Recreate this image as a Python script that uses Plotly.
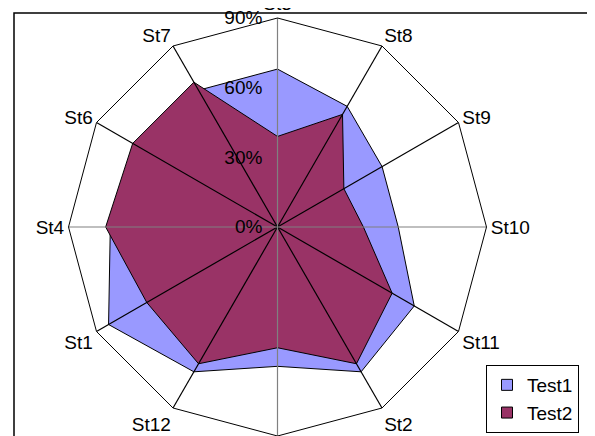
import plotly.graph_objects as go

categories = ["St3", "St8", "St9", "St10", "St11", "St2", "St5", "St12", "St1", "St4", "St6", "St7"]
test1 = [0.68, 0.60, 0.52, 0.52, 0.68, 0.72, 0.60, 0.72, 0.84, 0.72, 0.65, 0.68]
test2 = [0.39, 0.56, 0.33, 0.37, 0.57, 0.68, 0.52, 0.68, 0.65, 0.74, 0.72, 0.72]
series_names = ["Test1", "Test2"]
series_colors = ["#9999FF", "#993366"]
radial_ticks = [0, 0.3, 0.6, 0.9]
radial_labels = ["0%", "30%", "60%", "90%"]

# the page body has an 8px default margin; work in figure coordinates
OFF = 8
W, H = 595 - OFF, 436 - OFF
R = 209
cx = 277.5 - OFF
rmax = radial_ticks[-1]

fig = go.Figure()
for vals, name, col in zip([test1, test2], series_names, series_colors):
    fig.add_trace(go.Scatterpolar(
        r=vals + vals[:1], theta=categories + categories[:1], name=name,
        mode="lines", fill="toself", fillcolor=col, showlegend=False,
        line=dict(color="black", width=1), hoverinfo="skip"))

# spokes drawn over the fills (axis lines in grey, the rest black)
axis_cats = [categories[i] for i in (0, 3, 6, 9)]
for cats, col in [([c for c in categories if c not in axis_cats], "black"), (axis_cats, "#808080")]:
    rr, tt = [], []
    for c in cats:
        rr += [0, rmax, None]
        tt += [c, c, c]
    fig.add_trace(go.Scatterpolar(r=rr, theta=tt, mode="lines", showlegend=False,
                                  line=dict(color=col, width=1.2), hoverinfo="skip"))

for name, col in zip(series_names, series_colors):
    fig.add_trace(go.Scatterpolar(
        r=[None], theta=[categories[0]], name=name, mode="markers",
        marker=dict(symbol="square", size=11, color=col, line=dict(color="black", width=1)),
        showlegend=True))

font = "Liberation Sans, Arial, sans-serif"
fig.update_layout(
    width=W, height=H,
    margin=dict(l=0, r=0, t=0, b=0, autoexpand=False),
    paper_bgcolor="white",
    font=dict(family=font, size=19, color="black"),
    polar=dict(
        domain=dict(x=[(cx - R) / W, (cx + R) / W], y=[0, 2 * R / H]),
        bgcolor="white",
        gridshape="linear",
        angularaxis=dict(
            type="category", categoryarray=categories,
            direction="clockwise", rotation=90,
            showline=True, linecolor="black", linewidth=1,
            showgrid=False,
            ticks="", layer="above traces",
            tickfont=dict(size=19),
        ),
        radialaxis=dict(
            range=[0, rmax], angle=90, tickangle=90,
            tickvals=radial_ticks, ticktext=radial_labels,
            showgrid=False, showline=False,
            ticks="outside", ticklen=8, tickcolor="rgba(0,0,0,0)",
            side="counterclockwise", layer="above traces",
            tickfont=dict(size=19),
        ),
    ),
    showlegend=True,
    legend=dict(
        x=(486 - OFF) / W, y=1 - (433 - OFF) / H, xanchor="left", yanchor="bottom",
        bordercolor="black", borderwidth=1, bgcolor="white",
        font=dict(size=19), tracegroupgap=0, itemwidth=30,
    ),
    shapes=[dict(type="rect", xref="paper", yref="paper",
                 x0=(14 - OFF) / W, y0=-0.05, x1=1.05, y1=1 - (13 - OFF) / H,
                 line=dict(color="black", width=1.5), layer="below")],
)

fig.write_html("out.html")
